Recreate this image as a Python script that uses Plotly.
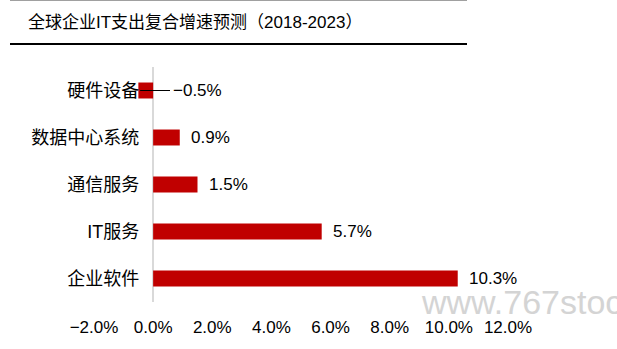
import plotly.graph_objects as go

# Global enterprise IT spending CAGR forecast, 2018-2023
categories = ["企业软件", "IT服务", "通信服务", "数据中心系统", "硬件设备"]
growth = [10.3, 5.7, 1.5, 0.9, -0.5]
tick_vals = [-2, 0, 2, 4, 6, 8, 10, 12]
tick_text = ["−2.0%", "0.0%", "2.0%", "4.0%", "6.0%", "8.0%", "10.0%", "12.0%"]

W, H = 617, 349
L, R, T, B = 94, 109, 67, 47
x_min, x_max = -2, 12
BAR_COLOR = "#c00000"
FONT = "Liberation Sans, Noto Sans CJK SC, sans-serif"

fig = go.Figure()
fig.add_trace(go.Bar(
    y=categories, x=growth, orientation="h",
    marker=dict(color=BAR_COLOR, line=dict(width=0)),
    width=0.34, hoverinfo="skip",
))

plot_w = W - L - R
plot_h = H - T - B
zero_frac = (0 - x_min) / (x_max - x_min)

# value labels
annotations = []
for cat, v in zip(categories, growth):
    if v >= 0:
        annotations.append(dict(
            x=v, y=cat, xref="x", yref="y", text=f"{v:.1f}%",
            showarrow=False, xanchor="left", xshift=9,
            font=dict(family=FONT, size=17, color="#000000"),
        ))
    else:
        # negative value: label placed right of the axis with a leader line
        lx0 = v + 0.06
        lx1 = 0.57
        fig.add_shape(type="line", x0=lx0, x1=lx1, y0=cat, y1=cat,
                      xref="x", yref="y", line=dict(color="#000000", width=1))
        annotations.append(dict(
            x=lx1, y=cat, xref="x", yref="y", text=f"−{abs(v):.1f}%",
            showarrow=False, xanchor="left", xshift=1,
            font=dict(family=FONT, size=17, color="#000000"),
        ))

# title and watermark, placed in pixels
pixel_notes = [
    dict(px=26, py=22, text="全球企业IT支出复合增速预测（2018-2023）",
         font=dict(family=FONT, size=17, color="#000000")),
    dict(px=419, py=302, text="www.767stock",
         font=dict(family="Liberation Sans, sans-serif", size=34, color="#d4d4d4")),
]
for n in pixel_notes:
    annotations.append(dict(
        x=(n["px"] - L) / plot_w, y=(H - n["py"] - B) / plot_h,
        xref="paper", yref="paper", text=n["text"], showarrow=False,
        xanchor="left", yanchor="middle", font=n["font"],
    ))

# horizontal rules above and below the title
for py, color, lw in [(0.5, "#a0a0a0", 1), (44, "#000000", 2)]:
    yy = (H - py - B) / plot_h
    fig.add_shape(type="line", xref="paper", yref="paper",
                  x0=(10 - L) / plot_w, x1=(467 - L) / plot_w, y0=yy, y1=yy,
                  line=dict(color=color, width=lw))

fig.update_layout(
    width=W, height=H,
    margin=dict(l=L, r=R, t=T, b=B),
    paper_bgcolor="white", plot_bgcolor="white",
    showlegend=False,
    annotations=annotations,
    xaxis=dict(
        range=[x_min, x_max], tickvals=tick_vals, ticktext=tick_text,
        showgrid=False, zeroline=True, zerolinecolor="#d9d9d9", zerolinewidth=2,
        showline=False, ticks="", ticklabelstandoff=13,
        tickfont=dict(family=FONT, size=17, color="#000000"),
        fixedrange=True,
    ),
    yaxis=dict(
        categoryorder="array", categoryarray=categories,
        anchor="free", position=zero_frac,
        showgrid=False, zeroline=False, showline=False, ticks="",
        ticklabelstandoff=14,
        tickfont=dict(family=FONT, size=18, color="#000000"),
        fixedrange=True,
    ),
)

fig.write_html("out.html")
